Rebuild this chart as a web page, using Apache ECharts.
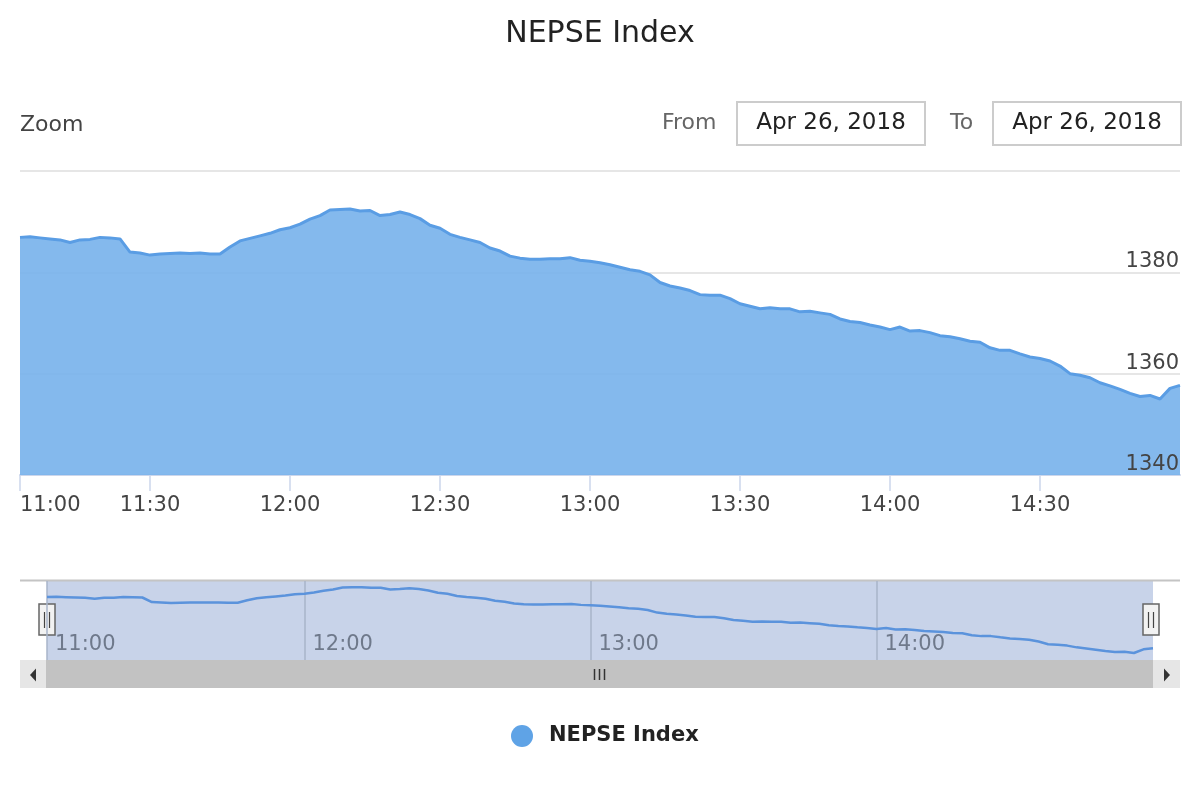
<!DOCTYPE html>
<html>
	<head>
		<meta charset="UTF-8">
		<script src="https://cdn.jsdelivr.net/npm/echarts@6.0.0/dist/echarts.min.js"></script>
		<title>NEPSE Index</title>
		<style>
			html, body { margin: 0; padding: 0; background: #fff; }
			#main { width: 1200px; height: 800px; }
		</style>
	</head>
	<body>
		<div id="main"></div>
	</body>

	<script>
		// index values, one point every 2 minutes (some early minutes have no data)
		var values = [
			1386.9, 1387.0, 1386.8, 1386.6, 1386.4, 1385.9, 1386.4, 1386.5, 1386.9, 1386.8,
			1386.6, 1384.0, 1383.8, 1383.4, 1383.6, 1383.7, 1383.8, 1383.7, 1383.8, 1383.6,
			1383.6, 1385.0, 1386.2, 1386.7, 1387.2, 1387.7, 1388.4, 1388.8, 1389.5, 1390.5,
			1391.2, 1392.3, 1392.4, 1392.5, 1392.1, 1392.2, 1391.2, 1391.4, 1391.9, 1391.4,
			1390.6, 1389.3, 1388.7, 1387.5, 1386.9, 1386.4, 1385.9, 1384.8, 1384.2, 1383.2,
			1382.8, 1382.6, 1382.6, 1382.7, 1382.7, 1382.9, 1382.4, 1382.2, 1381.9, 1381.5,
			1381.0, 1380.5, 1380.2, 1379.5, 1378.0, 1377.3, 1376.9, 1376.4, 1375.6, 1375.5,
			1375.5, 1374.8, 1373.8, 1373.3, 1372.8, 1373.0, 1372.8, 1372.8, 1372.2, 1372.3,
			1372.0, 1371.7, 1370.8, 1370.3, 1370.1, 1369.6, 1369.2, 1368.7, 1369.2, 1368.4,
			1368.5, 1368.1, 1367.5, 1367.3, 1366.9, 1366.4, 1366.2, 1365.1, 1364.6, 1364.6,
			1363.9, 1363.3, 1363.0, 1362.5, 1361.5, 1360.0, 1359.7, 1359.2, 1358.2, 1357.6,
			1356.9, 1356.1, 1355.5, 1355.7, 1355.0, 1357.1, 1357.7
		];
		var missingTimes = ['11:08', '11:20', '11:44'];
		var yTicks = [1340, 1360, 1380, 1400];
		var dateText = 'Apr 26, 2018';

		// time of each point (ordinal axis, like the stock chart)
		var times = [];
		for (var m = 11 * 60; m <= 14 * 60 + 58; m += 2) {
			var hh = Math.floor(m / 60), mm = m % 60;
			var t = hh + ':' + (mm < 10 ? '0' : '') + mm;
			if (missingTimes.indexOf(t) < 0) times.push(t);
		}

		function halfHour(i, v) { return /:(00|30)$/.test(v); }
		function fullHour(i, v) { return /:00$/.test(v); }

		var font = 'DejaVu Sans';
		var yMin = yTicks[0], yMax = yTicks[yTicks.length - 1];
		var myChart = echarts.init(document.getElementById('main'));

		myChart.setOption({
			animation: false,
			textStyle: { fontFamily: font },
			title: {
				text: 'NEPSE Index',
				left: 'center',
				top: 19,
				padding: 0,
				textStyle: { fontSize: 30, fontWeight: 'normal', color: '#222', fontFamily: font }
			},
			legend: {
				data: ['NEPSE Index'],
				left: 506,
				top: 720,
				icon: 'circle',
				itemWidth: 22,
				itemHeight: 22,
				textStyle: { fontSize: 21, fontWeight: 'bold', color: '#222', fontFamily: font, padding: [0, 0, 0, 11] }
			},
			grid: [
				{ left: 20, right: 20, top: 171, height: 304 },
				{ left: 47, right: 47, top: 581, height: 79, show: true,
				  backgroundColor: 'rgba(102,133,194,0.36)', borderWidth: 0 }
			],
			xAxis: [
				{
					type: 'category',
					gridIndex: 0,
					data: times,
					boundaryGap: false,
					axisLine: { lineStyle: { color: '#ccd6eb', width: 2 } },
					axisTick: { interval: halfHour, length: 16, lineStyle: { color: '#ccd6eb', width: 1.5 } },
					axisLabel: { interval: halfHour, fontSize: 21, color: '#444', margin: 20, alignMinLabel: 'left' },
					splitLine: { show: false }
				},
				{
					type: 'category',
					gridIndex: 1,
					data: times,
					boundaryGap: false,
					axisLine: { show: false },
					axisTick: { show: false },
					axisLabel: { interval: fullHour, inside: true, align: 'left', verticalAlign: 'middle',
						margin: 15, padding: [0, 0, 0, 8], fontSize: 21, color: '#6f798b' },
					splitLine: { show: true, interval: fullHour, lineStyle: { color: '#a9b4ca', width: 1.5 } }
				}
			],
			yAxis: [
				{
					// grid lines, under the area
					type: 'value',
					gridIndex: 0,
					position: 'right',
					min: yMin,
					max: yMax,
					interval: 20,
					axisLine: { show: false },
					axisTick: { show: false },
					axisLabel: { show: false },
					splitLine: { lineStyle: { color: '#e6e6e6', width: 2 } }
				},
				{
					// labels, drawn above the area
					type: 'value',
					gridIndex: 0,
					position: 'right',
					min: yMin,
					max: yMax,
					interval: 20,
					z: 5,
					axisLine: { show: false },
					axisTick: { show: false },
					splitLine: { show: false },
					axisLabel: { inside: true, margin: 1, showMaxLabel: false, verticalAlign: 'bottom',
						fontSize: 21, color: '#444', formatter: function (v) { return String(v); } }
				},
				{ type: 'value', gridIndex: 1, min: 1351, max: 1396, show: false }
			],
			series: [
				{
					name: 'NEPSE Index',
					type: 'line',
					xAxisIndex: 0,
					yAxisIndex: 0,
					data: values,
					showSymbol: false,
					lineStyle: { color: '#5a9de4', width: 3 },
					itemStyle: { color: '#5fa3e6' },
					areaStyle: { color: '#79b3eb', opacity: 0.92, origin: 'start' }
				},
				{
					name: 'navigator',
					type: 'line',
					xAxisIndex: 1,
					yAxisIndex: 2,
					data: values,
					showSymbol: false,
					silent: true,
					lineStyle: { color: '#5b93dc', width: 2.5 }
				}
			],
			graphic: [
				// range selector
				{ type: 'text', left: 20, top: 114, style: { text: 'Zoom', fontSize: 22, fill: '#444', fontFamily: font } },
				{ type: 'text', left: 662, top: 112, style: { text: 'From', fontSize: 22, fill: '#666', fontFamily: font } },
				{ type: 'rect', shape: { x: 737, y: 102, width: 188, height: 43 }, style: { fill: '#fff', stroke: '#ccc', lineWidth: 2 } },
				{ type: 'text', x: 831, y: 123, style: { text: dateText, fontSize: 23, fill: '#222', fontFamily: font, align: 'center', verticalAlign: 'middle' } },
				{ type: 'text', left: 950, top: 112, style: { text: 'To', fontSize: 22, fill: '#666', fontFamily: font } },
				{ type: 'rect', shape: { x: 993, y: 102, width: 188, height: 43 }, style: { fill: '#fff', stroke: '#ccc', lineWidth: 2 } },
				{ type: 'text', x: 1087, y: 123, style: { text: dateText, fontSize: 23, fill: '#222', fontFamily: font, align: 'center', verticalAlign: 'middle' } },

				// navigator outline
				{ type: 'line', shape: { x1: 20, y1: 580.5, x2: 1180, y2: 580.5 }, style: { stroke: '#c4c4c4', lineWidth: 2 } },

				// scrollbar
				{ type: 'rect', shape: { x: 20, y: 660, width: 1160, height: 28 }, style: { fill: '#f2f2f2' } },
				{ type: 'rect', shape: { x: 46, y: 660, width: 1107, height: 28 }, style: { fill: '#c2c2c2' } },
				{ type: 'rect', shape: { x: 20, y: 660, width: 26, height: 28 }, style: { fill: '#e6e6e6' } },
				{ type: 'rect', shape: { x: 1153, y: 660, width: 27, height: 28 }, style: { fill: '#e6e6e6' } },
				{ type: 'polygon', shape: { points: [[36, 668.5], [36, 681.5], [30, 675]] }, style: { fill: '#333' } },
				{ type: 'polygon', shape: { points: [[1164, 668.5], [1164, 681.5], [1170, 675]] }, style: { fill: '#333' } },
				{ type: 'line', shape: { x1: 594.5, y1: 669, x2: 594.5, y2: 680 }, style: { stroke: '#333', lineWidth: 1.5 } },
				{ type: 'line', shape: { x1: 599.5, y1: 669, x2: 599.5, y2: 680 }, style: { stroke: '#333', lineWidth: 1.5 } },
				{ type: 'line', shape: { x1: 604.5, y1: 669, x2: 604.5, y2: 680 }, style: { stroke: '#333', lineWidth: 1.5 } },

				// navigator handles
				{ type: 'rect', shape: { x: 39, y: 604, width: 16, height: 31 }, style: { fill: '#f2f2f2', stroke: '#666', lineWidth: 1.5 } },
				{ type: 'line', shape: { x1: 44.5, y1: 612, x2: 44.5, y2: 628 }, style: { stroke: '#444', lineWidth: 1.2 } },
				{ type: 'line', shape: { x1: 49.5, y1: 612, x2: 49.5, y2: 628 }, style: { stroke: '#444', lineWidth: 1.2 } },
				{ type: 'rect', shape: { x: 1143, y: 604, width: 16, height: 31 }, style: { fill: '#f2f2f2', stroke: '#666', lineWidth: 1.5 } },
				{ type: 'line', shape: { x1: 1148.5, y1: 612, x2: 1148.5, y2: 628 }, style: { stroke: '#444', lineWidth: 1.2 } },
				{ type: 'line', shape: { x1: 1153.5, y1: 612, x2: 1153.5, y2: 628 }, style: { stroke: '#444', lineWidth: 1.2 } }
			]
		});
	</script>
</html>
